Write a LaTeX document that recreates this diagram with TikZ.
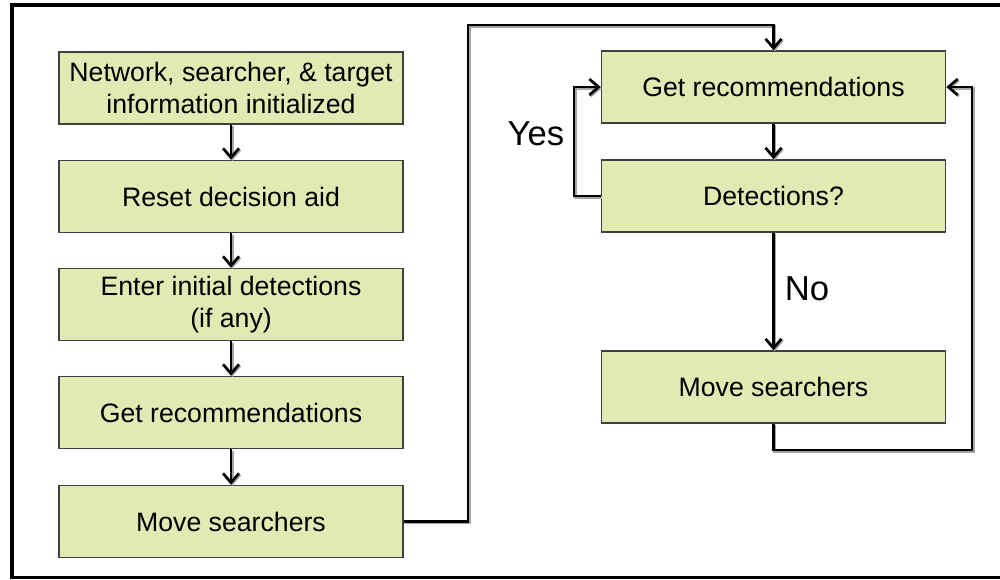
\documentclass[tikz,border=0pt]{standalone}
\usepackage{fontspec}
\setmainfont{Liberation Sans}
\usetikzlibrary{arrows.meta,calc}
\definecolor{boxfill}{RGB}{226,234,180}
\definecolor{boxline}{RGB}{64,64,64}
\tikzset{
  stepbox/.style={draw=boxline, fill=boxfill, line width=1.2pt,
    minimum width=258pt, minimum height=54pt, inner sep=0pt,
    align=center, font=\fontsize{20}{23.5}\selectfont},
  flow/.style={line width=2pt, black,
    preaction={draw=black!35, line width=2pt, transform canvas={shift={(0.9pt,-0.9pt)}}}},
  flowarrow/.style={flow, -{Straight Barb[length=7pt,width=12pt,line width=2pt]}},
  answer/.style={font=\fontsize{26}{30}\selectfont}
}
\begin{document}
\begin{tikzpicture}[x=0.75pt,y=-0.75pt]
  \useasboundingbox (0,0) rectangle (1000,579);
  % page frame
  \draw[line width=3pt] (10,5) -- (1000,5);
  \draw[line width=3pt] (12,3) -- (12,579);
  \draw[line width=2pt] (10,577.8) -- (1000,577.8);

  % initial sequence
  \node[stepbox] (L1) at (231,88) {Network, searcher, \& target\\information initialized};
  \node[stepbox] (L2) at (231,196.5) {Reset decision aid};
  \node[stepbox] (L3) at (231,304.5) {Enter initial detections\\(if any)};
  \node[stepbox] (L4) at (231,412.5) {Get recommendations};
  \node[stepbox] (L5) at (231,521.5) {Move searchers};

  % search loop
  \node[stepbox] (R1) at (773.5,87) {Get recommendations};
  \node[stepbox] (R2) at (773.5,196) {Detections?};
  \node[stepbox] (R3) at (773.5,387) {Move searchers};

  \draw[flowarrow] (L1) -- (L2);
  \draw[flowarrow] (L2) -- (L3);
  \draw[flowarrow] (L3) -- (L4);
  \draw[flowarrow] (L4) -- (L5);

  \coordinate (over) at (468,25);
  \draw[flowarrow] (L5.east) -| (over) -| (R1.north);

  \draw[flowarrow] (R1) -- (R2);
  \draw[flowarrow] (R2) -- (R3);
  \node[answer] (no) at (807,289) {No};

  \coordinate (yesbend) at (574,140);
  \draw[flowarrow] (R2.west) -| (yesbend) |- (R1.west);
  \node[answer] (yes) at (536,134) {Yes};

  \coordinate (back) at (972,450);
  \draw[flowarrow] (R3.south) |- (back) |- (R1.east);
\end{tikzpicture}
\end{document}
